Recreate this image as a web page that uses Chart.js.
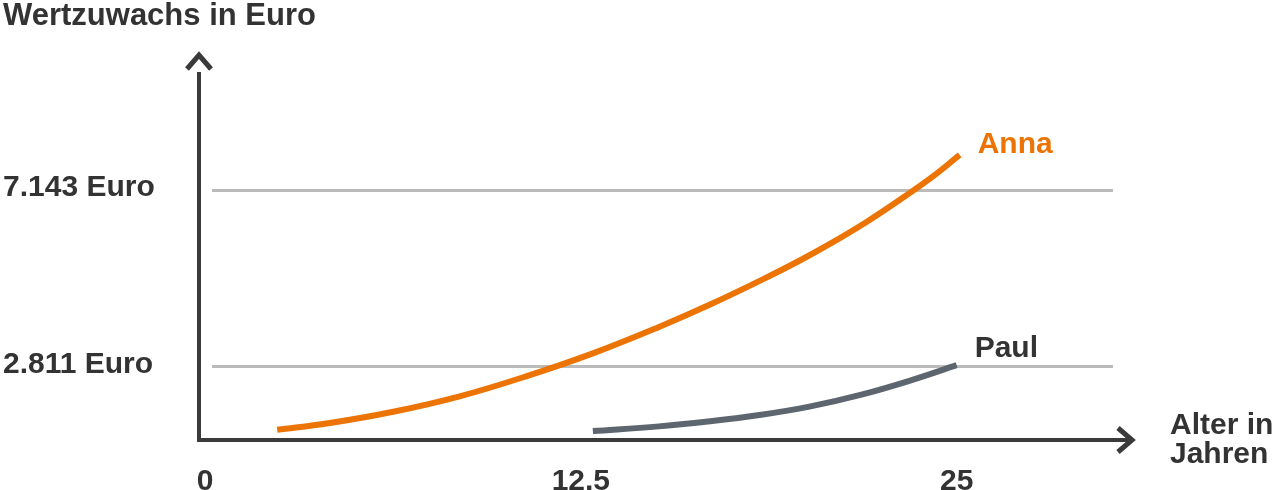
<!DOCTYPE html>
<html>
<head>
<meta charset="utf-8">
<script src="https://cdn.jsdelivr.net/npm/chart.js@4.4.0/dist/chart.umd.min.js"></script>
<style>
  html, body { margin: 0; padding: 0; background: #fff; }
  #wrap { width: 1280px; height: 490px; }
</style>
</head>
<body>
<div id="wrap"><canvas id="chart" width="1280" height="490"></canvas></div>
<script>
// values (age in years, gain in euro)
const annaAges   = [2.4, 4.1, 6.3, 8.5, 10.7, 12.9, 15.1, 16.8, 18.5, 19.8, 20.9, 22.0, 23.1, 24.2, 25.1];
const annaValues = [1250, 1410, 1700, 2080, 2570, 3130, 3780, 4330, 4930, 5420, 5870, 6360, 6900, 7475, 8010];
const paulAges   = [12.9, 15.1, 16.8, 18.5, 20.1, 21.8, 23.4, 25.0];
const paulValues = [1220, 1335, 1460, 1620, 1820, 2110, 2450, 2840];

const xTicks = [0, 12.5, 25];
const xTickLabels = ['0', '12,5', '25'];
const yTicks = [2811, 7143];
const yTickLabels = ['2.811 Euro', '7.143 Euro'];

const seriesNames = ['Anna', 'Paul'];
const yTitle = 'Wertzuwachs in Euro';
const xTitle = ['Alter in', 'Jahren'];

const DARK = '#333333';
const AXIS = '#3a3a3a';
const ORANGE = '#ec7404';
const GREY = '#5d666e';
const FONT = '"Liberation Sans", Arial, sans-serif';

function toPoints(xs, ys) {
    return xs.map((x, i) => ({ x: x, y: ys[i] }));
}

// grid lines, axes with arrows, titles and series labels
const decor = {
    id: 'decor',
    beforeDatasetsDraw(chart) {
        const { ctx, chartArea, scales } = chart;
        const { left, right, bottom, top } = chartArea;
        ctx.save();

        ctx.strokeStyle = '#bbbbbb';
        ctx.lineWidth = 3;
        scales.y.ticks.forEach(t => {
            const py = Math.round(scales.y.getPixelForValue(t.value)) + 0.5;
            ctx.beginPath();
            ctx.moveTo(left + 13, py);
            ctx.lineTo(right, py);
            ctx.stroke();
        });

        ctx.strokeStyle = AXIS;
        ctx.lineWidth = 4;
        ctx.lineCap = 'butt';
        ctx.beginPath();
        ctx.moveTo(left, bottom + 2);
        ctx.lineTo(left, top - 2);
        ctx.moveTo(left - 2, bottom);
        ctx.lineTo(right + 15, bottom);
        ctx.stroke();

        ctx.lineWidth = 5;
        ctx.lineJoin = 'miter';
        ctx.beginPath();
        ctx.moveTo(left - 12, top - 5);
        ctx.lineTo(left, top - 19);
        ctx.lineTo(left + 12, top - 5);
        ctx.moveTo(right + 5, bottom - 12);
        ctx.lineTo(right + 19, bottom);
        ctx.lineTo(right + 5, bottom + 12);
        ctx.stroke();

        ctx.fillStyle = DARK;
        ctx.font = 'bold 31px ' + FONT;
        ctx.textAlign = 'left';
        ctx.textBaseline = 'alphabetic';
        ctx.fillText(yTitle, 3, 25);

        ctx.font = 'bold 30px ' + FONT;
        ctx.fillText(xTitle[0], right + 57, bottom - 6);
        ctx.fillText(xTitle[1], right + 57, bottom + 23);
        ctx.restore();
    },
    afterDatasetsDraw(chart) {
        const { ctx } = chart;
        const lift = [2, 8];
        ctx.save();
        ctx.font = 'bold 30px ' + FONT;
        ctx.textAlign = 'left';
        ctx.textBaseline = 'alphabetic';
        chart.data.datasets.forEach((ds, i) => {
            const pts = chart.getDatasetMeta(i).data;
            const last = pts[pts.length - 1];
            ctx.fillStyle = i === 0 ? ORANGE : DARK;
            ctx.fillText(ds.label, last.x + 18, last.y - lift[i]);
        });
        ctx.restore();
    }
};

new Chart(document.getElementById('chart'), {
    type: 'line',
    data: {
        datasets: [
            {
                label: seriesNames[0],
                data: toPoints(annaAges, annaValues),
                borderColor: ORANGE,
                borderWidth: 6,
                tension: 0.4,
                borderCapStyle: 'butt',
                pointRadius: 0
            },
            {
                label: seriesNames[1],
                data: toPoints(paulAges, paulValues),
                borderColor: GREY,
                borderWidth: 6,
                tension: 0.4,
                borderCapStyle: 'butt',
                pointRadius: 0
            }
        ]
    },
    options: {
        responsive: false,
        animation: false,
        layout: { padding: { left: 3, right: 167, top: 74, bottom: 0 } },
        plugins: {
            legend: { display: false },
            tooltip: { enabled: false }
        },
        scales: {
            x: {
                type: 'linear',
                min: -0.2,
                max: 30.2,
                grid: { display: false },
                border: { display: false },
                afterBuildTicks: scale => { scale.ticks = xTicks.map(v => ({ value: v })); },
                afterFit: scale => { scale.height = 50; },
                ticks: {
                    autoSkip: false,
                    maxRotation: 0,
                    padding: 16,
                    color: DARK,
                    font: { family: FONT, size: 30, weight: 'bold' },
                    callback: (v, i) => xTickLabels[i]
                }
            },
            y: {
                min: 1000,
                max: 10000,
                grid: { display: false },
                border: { display: false },
                afterBuildTicks: scale => { scale.ticks = yTicks.map(v => ({ value: v })); },
                afterFit: scale => { scale.width = 196; },
                ticks: {
                    autoSkip: false,
                    crossAlign: 'far',
                    labelOffset: -2,
                    color: DARK,
                    font: { family: FONT, size: 30, weight: 'bold' },
                    callback: (v, i) => yTickLabels[i]
                }
            }
        }
    },
    plugins: [decor]
});
</script>
</body>
</html>
